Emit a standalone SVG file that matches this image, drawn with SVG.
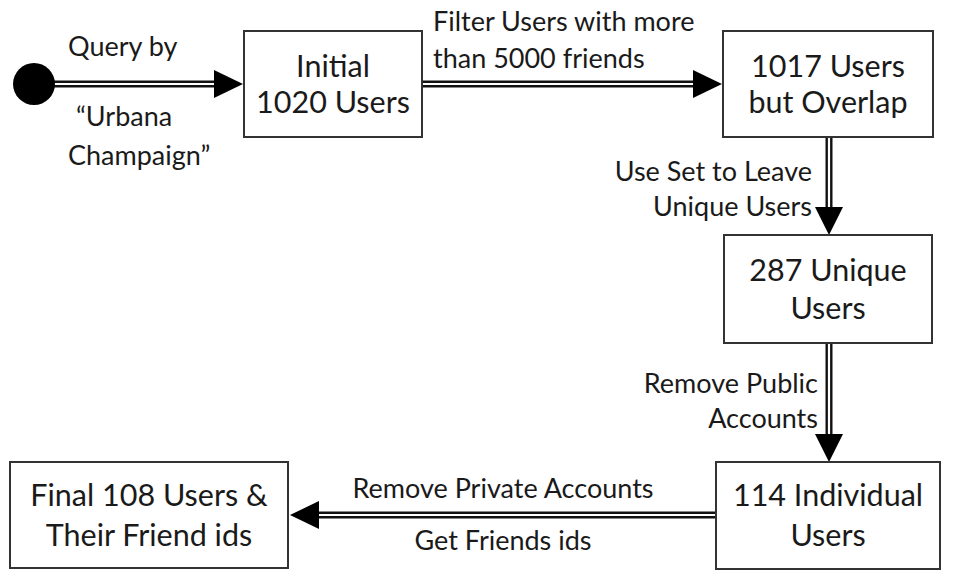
<svg xmlns="http://www.w3.org/2000/svg" width="960" height="580" viewBox="0 0 960 580">
<defs>
<style>
.box{fill:#fff;stroke:#333;stroke-width:2}
.t{font-family:Lato,"Open Sans","Liberation Sans",sans-serif;font-size:30.5px;fill:#1a1a1a;text-anchor:middle}
.l{font-family:Lato,"Open Sans","Liberation Sans",sans-serif;font-size:27px;fill:#1a1a1a}
.outer{stroke:#111;stroke-width:7;fill:none}
.inner{stroke:#fff;stroke-width:2.2;fill:none}
.head{fill:#000}
</style>
</defs>
<rect width="960" height="580" fill="#fff"/>
<g id="connectors">
<path class="outer" d="M52 84H218"/><path class="inner" d="M52 84H218"/>
<polygon class="head" points="214,70 243,84 214,98"/>
<path class="outer" d="M423 84H697"/><path class="inner" d="M423 84H697"/>
<polygon class="head" points="693,70 722,84 693,98"/>
<path class="outer" d="M829 138V210"/><path class="inner" d="M829 138V210"/>
<polygon class="head" points="815,207 829,235 843,207"/>
<path class="outer" d="M829 344V437"/><path class="inner" d="M829 344V437"/>
<polygon class="head" points="815,434 829,462 843,434"/>
<path class="outer" d="M716 515H316"/><path class="inner" d="M716 515H316"/>
<polygon class="head" points="319,501 290,515 319,529"/>
<text class="l" x="68" y="56">Query by</text>
<text class="l" x="76" y="126">“Urbana</text>
<text class="l" x="68" y="165">Champaign”</text>
<text class="l" x="433" y="31">Filter Users with more</text>
<text class="l" x="433" y="68">than 5000 friends</text>
<text class="l" x="812" y="181" text-anchor="end">Use Set to Leave</text>
<text class="l" x="812" y="216" text-anchor="end">Unique Users</text>
<text class="l" x="818" y="393" text-anchor="end">Remove Public</text>
<text class="l" x="818" y="428" text-anchor="end">Accounts</text>
<text class="l" x="503" y="498" text-anchor="middle">Remove Private Accounts</text>
<text class="l" x="503" y="550" text-anchor="middle">Get Friends ids</text>
</g>
<g id="start"><circle cx="34" cy="84" r="21" fill="#000"/></g>
<g id="initial"><rect class="box" x="244" y="31" width="178" height="106"/>
<text class="t" x="333" y="77">Initial</text><text class="t" x="333" y="113">1020 Users</text></g>
<g id="overlap"><rect class="box" x="723" y="31" width="210" height="106"/>
<text class="t" x="828" y="77">1017 Users</text><text class="t" x="828" y="113">but Overlap</text></g>
<g id="unique"><rect class="box" x="724" y="235" width="208" height="108"/>
<text class="t" x="828" y="281">287 Unique</text><text class="t" x="828" y="319">Users</text></g>
<g id="individual"><rect class="box" x="716" y="462" width="224" height="107"/>
<text class="t" x="828" y="506">114 Individual</text><text class="t" x="828" y="546">Users</text></g>
<g id="final"><rect class="box" x="10" y="462" width="278" height="106"/>
<text class="t" x="149" y="506">Final 108 Users &amp;</text><text class="t" x="149" y="546">Their Friend ids</text></g>
</svg>
